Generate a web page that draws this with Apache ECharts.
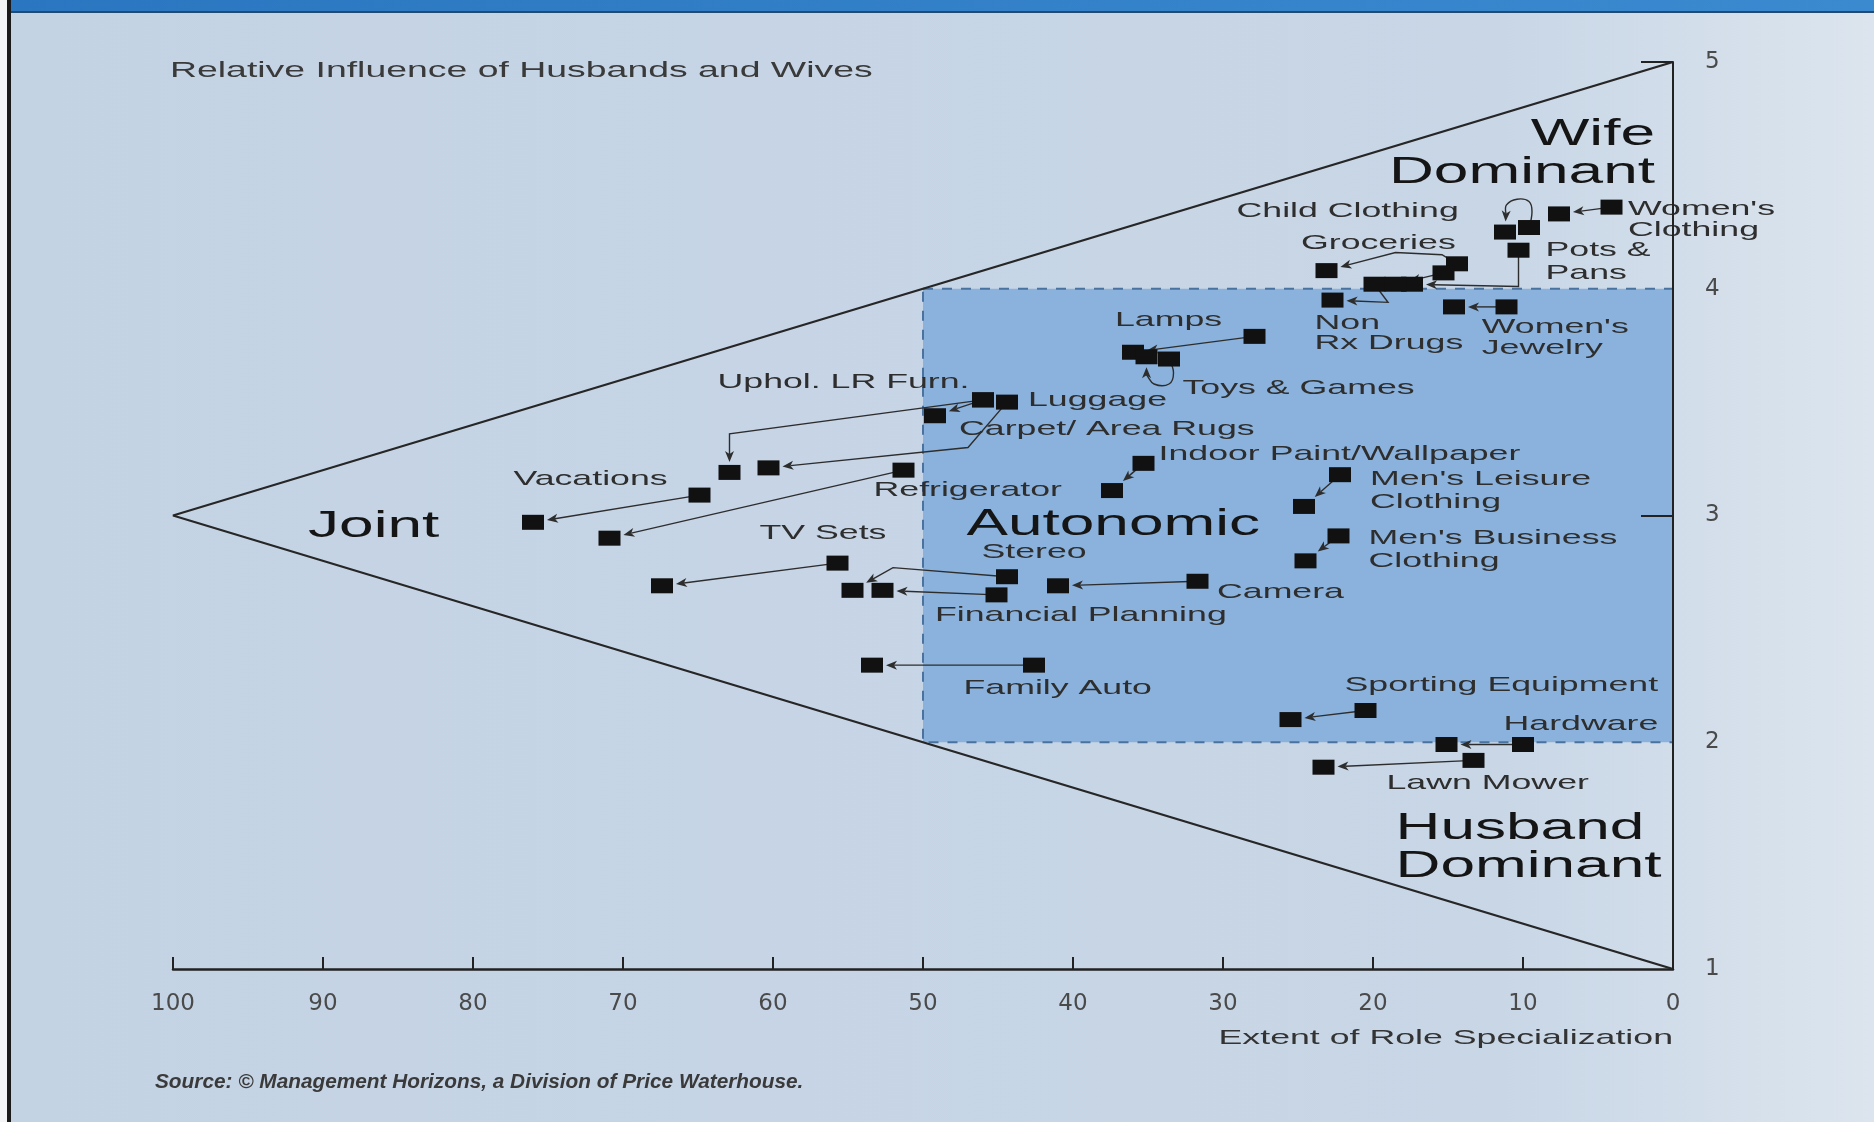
<!DOCTYPE html>
<html>
<head>
<meta charset="utf-8">
<title>Relative Influence of Husbands and Wives</title>
<script src="https://cdn.jsdelivr.net/npm/echarts/dist/echarts.min.js"></script>
<style>
  html, body { margin: 0; padding: 0; background: #c6d5e6; }
  #container { width: 1874px; height: 1122px; }
</style>
</head>
<body>
<div id="container"></div>
<script>
// x = extent of role specialization (%), y = relative influence (1 husband .. 5 wife)
var products = [
  "Women's Clothing", 'Child Clothing', 'Pots & Pans', 'Groceries', 'Groceries (b)',
  'Non Rx Drugs', "Women's Jewelry", 'Lamps', 'Toys & Games', 'Uphol. LR Furn.',
  'Carpet/ Area Rugs', 'Luggage', 'Refrigerator', 'Vacations', 'TV Sets',
  'Stereo', 'Financial Planning', 'Camera', 'Indoor Paint/Wallpaper', "Men's Leisure Clothing",
  "Men's Business Clothing", 'Family Auto', 'Sporting Equipment', 'Hardware', 'Lawn Mower'
];
var earlier = [
  [4.1, 4.36], [9.6, 4.27], [10.3, 4.17], [14.4, 4.11], [15.3, 4.07],
  [19.9, 4.02], [11.1, 3.92], [27.9, 3.79], [33.6, 3.69], [46.0, 3.51],
  [46.0, 3.51], [44.4, 3.50], [51.3, 3.20], [64.9, 3.09], [55.7, 2.79],
  [44.4, 2.73], [45.1, 2.65], [31.7, 2.71], [35.3, 3.23], [22.2, 3.18],
  [22.3, 2.91], [42.6, 2.34], [20.5, 2.14], [10.0, 1.99], [13.3, 1.92]
];
var later = [
  [7.6, 4.33], [11.2, 4.25], [17.4, 4.02], [23.1, 4.08], [18.5, 4.02],
  [22.7, 3.95], [14.6, 3.92], [36.0, 3.72], [35.1, 3.70], [62.9, 3.19],
  [49.2, 3.44], [60.3, 3.21], [70.9, 2.90], [76.0, 2.97], [67.4, 2.69],
  [54.7, 2.67], [52.7, 2.67], [41.0, 2.69], [37.4, 3.11], [24.6, 3.04],
  [24.5, 2.80], [53.4, 2.34], [25.5, 2.10], [15.1, 1.99], [23.3, 1.89]
];
var bends = [
  [], [[9.4, 4.34], [9.6, 4.385], [10.4, 4.395], [11.1, 4.37]], [[10.3, 4.01]], [[15.4, 4.15], [18.5, 4.16]], [],
  [[19.0, 3.94]], [], [], [[33.3, 3.63], [33.6, 3.58], [34.6, 3.58], [35.1, 3.62]], [[62.9, 3.36]],
  [], [[47.0, 3.30]], [], [], [],
  [[52.0, 2.77]], [], [], [], [],
  [], [], [], [], []
];

var labelTexts = [
  'Child Clothing', 'Groceries', "Women's", 'Clothing', 'Pots &', 'Pans',
  'Non', 'Rx Drugs', "Women's", 'Jewelry', 'Lamps', 'Toys & Games',
  'Uphol. LR Furn.', 'Luggage', 'Carpet/ Area Rugs', 'Indoor Paint/Wallpaper',
  "Men's Leisure", 'Clothing', "Men's Business", 'Clothing', 'Vacations',
  'Refrigerator', 'TV Sets', 'Stereo', 'Camera', 'Financial Planning',
  'Family Auto', 'Sporting Equipment', 'Hardware', 'Lawn Mower'
];
var labelAt = [
  [29.1, 4.34], [24.8, 4.20], [3.0, 4.35], [3.0, 4.26], [8.5, 4.17], [8.5, 4.07],
  [23.9, 3.85], [23.9, 3.76], [12.75, 3.83], [12.75, 3.74], [37.2, 3.86], [32.7, 3.56],
  [63.7, 3.59], [43.0, 3.51], [47.6, 3.38], [34.3, 3.27],
  [20.2, 3.16], [20.2, 3.06], [20.3, 2.90], [20.3, 2.80], [77.3, 3.16],
  [53.3, 3.11], [60.9, 2.92], [46.1, 2.84], [30.4, 2.66], [49.2, 2.56],
  [47.3, 2.24], [21.9, 2.25], [11.3, 2.08], [19.1, 1.82]
];

var regionTexts = ['Joint', 'Autonomic', 'Wife', 'Dominant', 'Husband', 'Dominant'];
var regionAt = [[91.0, 2.95], [47.1, 2.96], [1.2, 4.68], [1.2, 4.51], [18.5, 1.62], [18.5, 1.45]];
var regionAlign = ['left', 'left', 'right', 'right', 'left', 'left'];

var triangle = [[0, 5], [100, 3], [0, 1]];
var autonomicX = [50, 0];
var autonomicY = [4, 2];

var FONT = 'Liberation Sans';
var STRETCH = 1.7;   // the printed type is wide
var BOX_W = 22, BOX_H = 15;

function renderArrow(params, api) {
  var i = api.value(2);
  var pts = [earlier[i]].concat(bends[i], [later[i]]).map(function (p) { return api.coord(p); });
  var n = pts.length;
  var end = pts[n - 1], prev = pts[n - 2];
  var dx = end[0] - prev[0], dy = end[1] - prev[1];
  var len = Math.sqrt(dx * dx + dy * dy) || 1;
  var ux = dx / len, uy = dy / len;
  var cut = Math.min(ux ? (BOX_W / 2) / Math.abs(ux) : 1e9, uy ? (BOX_H / 2) / Math.abs(uy) : 1e9) + 3;
  var tip = [end[0] - ux * cut, end[1] - uy * cut];
  var back = [tip[0] - ux * 11, tip[1] - uy * 11];
  var notch = [tip[0] - ux * 8, tip[1] - uy * 8];
  var line = pts.slice(0, n - 1).concat([notch]);
  return {
    type: 'group',
    children: [
      {
        type: 'polyline',
        shape: { points: line, smooth: bends[i].length > 2 ? 0.4 : 0 },
        style: { stroke: '#2d2d2d', lineWidth: 1.4, fill: null }
      },
      {
        type: 'polygon',
        shape: { points: [tip, [back[0] - uy * 4.5, back[1] + ux * 4.5], notch, [back[0] + uy * 4.5, back[1] - ux * 4.5]] },
        style: { fill: '#2d2d2d' }
      }
    ]
  };
}

function renderLabel(params, api) {
  var i = api.value(2);
  var p = api.coord([api.value(0), api.value(1)]);
  return {
    type: 'text', x: p[0], y: p[1], scaleX: STRETCH,
    style: { text: labelTexts[i], x: 0, y: 0, align: 'left', verticalAlign: 'middle', fontSize: 21, fontFamily: FONT, fill: '#2e2e2e' }
  };
}

function renderRegion(params, api) {
  var i = api.value(2);
  var p = api.coord([api.value(0), api.value(1)]);
  return {
    type: 'text', x: p[0], y: p[1], scaleX: 1.68,
    style: { text: regionTexts[i], x: 0, y: 0, align: regionAlign[i], verticalAlign: 'middle', fontSize: 37, fontFamily: FONT, fill: '#151515' }
  };
}

function withIndex(list) {
  return list.map(function (p, i) { return [p[0], p[1], i]; });
}

var dom = document.getElementById("container");
var myChart = echarts.init(dom);
var option = null;

option = {
  backgroundColor: '#c6d5e6',
  animation: false,
  graphic: [
    {
      type: 'rect', z: -100, shape: { x: 0, y: 0, width: 1874, height: 1122 },
      style: {
        fill: new echarts.graphic.LinearGradient(0, 0, 1, 0, [
          { offset: 0, color: '#c4d3e4' }, { offset: 0.8, color: '#c8d6e6' }, { offset: 1, color: '#dce5ee' }
        ])
      }
    },
    {
      type: 'rect', shape: { x: 0, y: 0, width: 1874, height: 11 },
      style: {
        fill: new echarts.graphic.LinearGradient(0, 0, 1, 0, [
          { offset: 0, color: '#2a76c0' }, { offset: 1, color: '#3b8ad0' }
        ])
      }
    },
    { type: 'rect', shape: { x: 0, y: 11, width: 1874, height: 2 }, style: { fill: '#234a70' } },
    { type: 'rect', shape: { x: 0, y: 0, width: 7, height: 1122 }, style: { fill: '#f2f4f6' } },
    { type: 'rect', shape: { x: 7, y: 0, width: 4, height: 1122 }, style: { fill: '#1a1a1a' } },
    {
      type: 'text', x: 170, y: 71, scaleX: STRETCH,
      style: { text: 'Relative Influence of Husbands and Wives', fontSize: 22, fontFamily: FONT, fill: '#3a3a3a', verticalAlign: 'middle' }
    },
    {
      type: 'text', x: 1673, y: 1038, scaleX: STRETCH,
      style: { text: 'Extent of Role Specialization', fontSize: 21, fontFamily: FONT, fill: '#333', align: 'right', verticalAlign: 'middle' }
    },
    {
      type: 'text', x: 155, y: 1082, scaleX: 1.04,
      style: { text: 'Source: \u00a9 Management Horizons, a Division of Price Waterhouse.', fontSize: 20, fontStyle: 'italic', fontWeight: 'bold', fontFamily: FONT, fill: '#3a3a3a', verticalAlign: 'middle' }
    }
  ],
  grid: { left: 173, right: 201, top: 62, bottom: 153 },
  xAxis: {
    type: 'value', min: 0, max: 100, interval: 10, inverse: true,
    axisLine: { onZero: false, lineStyle: { color: '#222', width: 2.5 } },
    axisTick: { inside: true, length: 12, lineStyle: { color: '#222', width: 2 } },
    axisLabel: { margin: 24, fontSize: 23, fontFamily: 'DejaVu Sans', color: '#4a4a4a' },
    splitLine: { show: false }
  },
  yAxis: {
    type: 'value', min: 1, max: 5, interval: 1, position: 'right', z: 5,
    axisLine: { show: true, lineStyle: { color: '#222', width: 2 } },
    axisTick: { show: true, inside: true, length: 32, customValues: [3, 5], lineStyle: { color: '#222', width: 2 } },
    axisLabel: { margin: 32, fontSize: 23, fontFamily: 'DejaVu Sans', color: '#4a4a4a' },
    splitLine: { show: false }
  },
  series: [
    {
      name: 'Triangle',
      type: 'line',
      data: triangle,
      symbol: 'none',
      silent: true,
      z: 1,
      lineStyle: { color: '#262626', width: 2.2 },
      markArea: {
        silent: true,
        itemStyle: { color: '#8bb2dc', opacity: 1, borderColor: '#4a729e', borderWidth: 2, borderType: [10, 9] },
        data: [[{ coord: [autonomicX[0], autonomicY[0]] }, { coord: [autonomicX[1], autonomicY[1]] }]]
      }
    },
    {
      name: 'Moves',
      type: 'custom',
      renderItem: renderArrow,
      data: withIndex(earlier),
      encode: { x: 0, y: 1 },
      silent: true,
      z: 3
    },
    {
      name: 'Products',
      type: 'scatter',
      data: earlier.concat(later),
      symbol: 'rect',
      symbolSize: [BOX_W, BOX_H],
      clip: false,
      silent: true,
      itemStyle: { color: '#111', opacity: 1 },
      z: 4
    },
    {
      name: 'Labels',
      type: 'custom',
      renderItem: renderLabel,
      data: withIndex(labelAt),
      encode: { x: 0, y: 1 },
      silent: true,
      z: 5
    },
    {
      name: 'Regions',
      type: 'custom',
      renderItem: renderRegion,
      data: withIndex(regionAt),
      encode: { x: 0, y: 1 },
      silent: true,
      z: 5
    }
  ]
};
if (option && typeof option === "object") {
  myChart.setOption(option, true);
}
</script>
</body>
</html>
